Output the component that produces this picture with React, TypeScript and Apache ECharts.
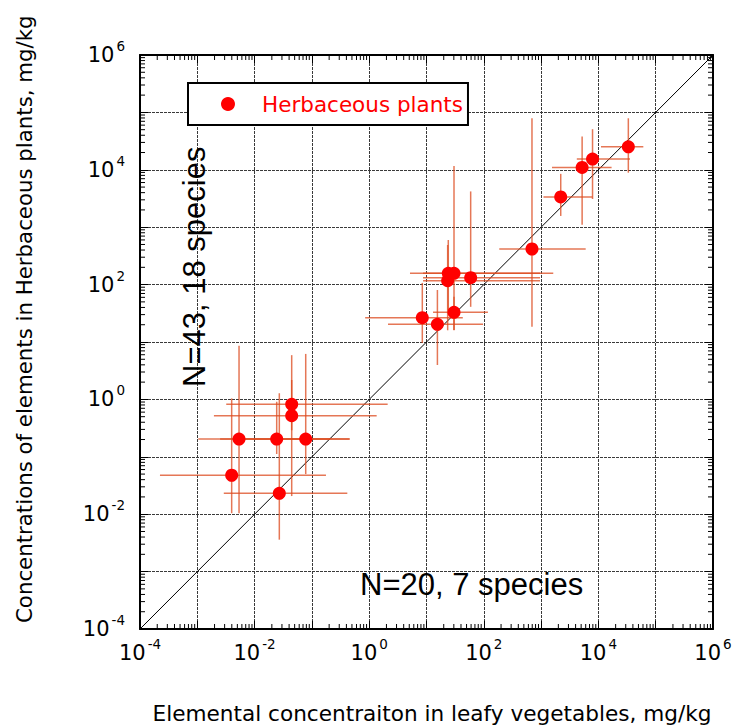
import React, { useEffect, useRef } from 'react';
import * as echarts from 'echarts';

// Herbaceous plants vs leafy vegetables (mg/kg), point value and error-bar ranges
const herbX = [3.33e4, 7.9e3, 5.2e3, 2.2e3, 693, 24, 30.2, 23.4, 59, 30.2, 8.45, 15.5, 0.0444, 0.0444, 5.35e-3, 0.0243, 0.078, 3.98e-3, 0.027];
const herbY = [2.52e4, 1.54e4, 1.1e4, 3.36e3, 417, 157, 157, 117, 132, 32.9, 26.5, 20.3, 0.822, 0.52, 0.204, 0.204, 0.204, 0.0477, 0.0231];
const xLow = [1.11e4, 4.2e3, 1.55e3, 1.1e3, 186, 5.15, 8.7, 8.7, 8.7, 13, 0.85, 2.13, 3.2e-3, 1.95e-3, 1.04e-3, 2.5e-3, 5.6e-3, 2.23e-4, 2.9e-3];
const xHigh = [6.08e4, 3.56e4, 1.7e4, 7.9e3, 6.0e3, 1.63e3, 957, 957, 957, 118, 43, 97, 2.1, 1.35, 0.45, 0.207, 0.46, 0.176, 0.415];
const yLow = [8.9e3, 3.1e3, 1.1e3, 1.57e3, 18.5, 36, 16, 16, 41, 16.2, 9.6, 3.97, 0.29, 0.0207, 0.0104, 0.112, 0.05, 0.0104, 3.6e-3];
const yHigh = [7.9e4, 5.1e4, 3.8e4, 8.5e3, 7.9e4, 598, 1.16e4, 490, 4.2e3, 61.5, 107, 80.5, 5.9, 2.18, 8.6, 0.91, 6.2, 1.04, 1.28];

const axisMin = 1e-4;
const axisMax = 1e6;
const minorMultipliers = [2, 3, 4, 5, 6, 7, 8, 9];
const decadeExponents = [-4, -3, -2, -1, 0, 1, 2, 3, 4, 5];
const oneToOne = [axisMin, axisMax];

const seriesName = 'Herbaceous plants';
const xTitle = 'Elemental concentraiton in leafy vegetables, mg/kg';
const yTitle = 'Concentrations of elements in Herbaceous plants, mg/kg';
const noteLeft = 'N=43, 18 species';
const noteBottom = 'N=20, 7 species';

const minorVals: number[] = [];
decadeExponents.forEach((e) => minorMultipliers.forEach((m) => minorVals.push(m * Math.pow(10, e))));

const labelFmt = (v: number) => {
  const e = Math.round(Math.log10(v));
  if (e % 2 !== 0) return '';
  return '{b|10}{sup|' + e + '}';
};

const richLabel = {
  b: { fontSize: 21, fontFamily: 'DejaVu Sans', color: '#000' },
  sup: { fontSize: 13.5, fontFamily: 'DejaVu Sans', color: '#000', padding: [0, 0, 18, 2] },
};

function baseAxis(extra: any) {
  return {
    type: 'log',
    logBase: 10,
    min: axisMin,
    max: axisMax,
    interval: 1,
    axisLine: { show: true, onZero: false, lineStyle: { color: '#000', width: 2 } },
    axisTick: { show: true, inside: true, length: 8, lineStyle: { color: '#000', width: 1 } },
    splitLine: { show: false },
    axisLabel: { show: false },
    ...extra,
  };
}

export default function App() {
  const ref = useRef<HTMLDivElement>(null);
  useEffect(() => {
    document.body.style.margin = '0';
    if (!ref.current) return;
    const chart = echarts.init(ref.current, undefined, { renderer: 'svg' });
    const gridLine = { show: true, lineStyle: { color: '#3a3a3a', width: 1, type: [3, 1] } };
    const pts = herbX.map((x, i) => [x, herbY[i]]);
    const bars = herbX.map((x, i) => [x, herbY[i], xLow[i], xHigh[i], yLow[i], yHigh[i]]);
    const tickStyle = { stroke: '#000', lineWidth: 1 };
    chart.setOption({
      animation: false,
      backgroundColor: '#fff',
      grid: { left: 140, top: 55, right: 20, bottom: 99, containLabel: false, outerBoundsMode: 'none' },
      xAxis: [
        baseAxis({
          position: 'bottom',
          splitLine: gridLine,
          axisLabel: {
            show: true, margin: 8, color: '#000', fontSize: 21, fontFamily: 'DejaVu Sans',
            formatter: labelFmt, rich: richLabel,
          },
        }),
        baseAxis({ position: 'top' }),
      ],
      yAxis: [
        baseAxis({
          position: 'left',
          splitLine: gridLine,
          axisLabel: {
            show: true, margin: 15, color: '#000', fontSize: 21, fontFamily: 'DejaVu Sans',
            formatter: labelFmt, rich: richLabel,
          },
        }),
        baseAxis({ position: 'right' }),
      ],
      legend: {
        data: [{ name: seriesName, icon: 'circle' }],
        left: 188,
        top: 83,
        padding: [10, 5, 10, 33],
        borderColor: '#000',
        borderWidth: 2,
        backgroundColor: '#fff',
        itemWidth: 14,
        itemHeight: 14,
        textStyle: { color: '#ff0000', fontSize: 21.5, fontFamily: 'DejaVu Sans', padding: [0, 0, 0, 22] },
      },
      graphic: [
        {
          type: 'text', x: 24, y: 623, rotation: Math.PI / 2,
          style: { text: yTitle, fill: '#000', font: '21.3px "DejaVu Sans"', align: 'left', verticalAlign: 'middle' },
        },
        {
          type: 'text', x: 432, y: 713,
          style: { text: xTitle, fill: '#000', font: '21.6px "DejaVu Sans"', align: 'center', verticalAlign: 'middle' },
        },
        {
          type: 'text', x: 194.5, y: 387, rotation: Math.PI / 2, z: 5,
          style: { text: noteLeft, fill: '#000', font: '31px "Liberation Sans"', align: 'left', verticalAlign: 'middle' },
        },
        {
          type: 'text', x: 360, y: 584, z: 5,
          style: { text: noteBottom, fill: '#000', font: '31px "Liberation Sans"', align: 'left', verticalAlign: 'middle' },
        },
      ],
      series: [
        {
          type: 'custom',
          name: 'xminor',
          silent: true,
          encode: { x: 0, y: 1 },
          data: minorVals.map((v) => [v, 1]),
          renderItem: (_p: any, api: any) => {
            const v = api.value(0);
            const b = api.coord([v, axisMin]);
            const t = api.coord([v, axisMax]);
            return {
              type: 'group',
              children: [
                { type: 'line', shape: { x1: b[0], y1: b[1], x2: b[0], y2: b[1] - 5 }, style: tickStyle },
                { type: 'line', shape: { x1: t[0], y1: t[1], x2: t[0], y2: t[1] + 5 }, style: tickStyle },
              ],
            };
          },
        },
        {
          type: 'custom',
          name: 'yminor',
          silent: true,
          encode: { x: 0, y: 1 },
          data: minorVals.map((v) => [1, v]),
          renderItem: (_p: any, api: any) => {
            const v = api.value(1);
            const l = api.coord([axisMin, v]);
            const r = api.coord([axisMax, v]);
            return {
              type: 'group',
              children: [
                { type: 'line', shape: { x1: l[0], y1: l[1], x2: l[0] + 5, y2: l[1] }, style: tickStyle },
                { type: 'line', shape: { x1: r[0], y1: r[1], x2: r[0] - 5, y2: r[1] }, style: tickStyle },
              ],
            };
          },
        },
        {
          type: 'line',
          name: '1:1',
          silent: true,
          symbol: 'none',
          data: oneToOne.map((v) => [v, v]),
          lineStyle: { color: '#000', width: 1 },
          z: 3,
        },
        {
          type: 'custom',
          name: 'errors',
          silent: true,
          encode: { x: 0, y: 1 },
          data: bars,
          z: 4,
          renderItem: (_p: any, api: any) => {
            const x = api.value(0), y = api.value(1);
            const a = api.coord([api.value(2), y]);
            const b = api.coord([api.value(3), y]);
            const c = api.coord([x, api.value(4)]);
            const d = api.coord([x, api.value(5)]);
            const st = { stroke: '#dc4a1e', lineWidth: 1.5, opacity: 0.75 };
            return {
              type: 'group',
              children: [
                { type: 'line', shape: { x1: a[0], y1: a[1], x2: b[0], y2: b[1] }, style: st },
                { type: 'line', shape: { x1: c[0], y1: c[1], x2: d[0], y2: d[1] }, style: st },
              ],
            };
          },
        },
        {
          type: 'scatter',
          name: seriesName,
          data: pts,
          symbol: 'circle',
          symbolSize: 13,
          itemStyle: { color: '#ff0000', opacity: 1 },
          z: 5,
        },
      ],
    });
    return () => chart.dispose();
  }, []);
  return <div ref={ref} style={{ width: 733, height: 728 }} />;
}
